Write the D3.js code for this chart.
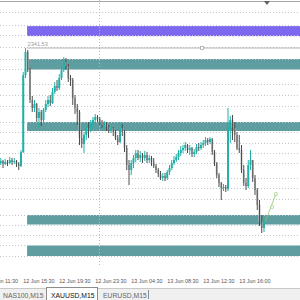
<!DOCTYPE html>
<html>
<head>
<meta charset="utf-8">
<script src="https://cdn.jsdelivr.net/npm/d3@7"></script>
<style>
    body { margin: 0; background: #ffffff; }
    svg { display: block; }
</style>
</head>
<body>
<svg id="chart" width="300" height="300"></svg>
<script>
// XAUUSD M15 bars, open = previous close
var firstOpen = 2313.03;
var closes = [2312.78, 2313.28, 2312.53, 2313.03, 2312.78, 2313.53, 2313.03, 2313.28, 2312.53, 2312.03,
    2315.53, 2334.78, 2340.53, 2336.03, 2328.53, 2326.53, 2327.53, 2324.03, 2325.53, 2323.53,
    2326.03, 2327.53, 2328.53, 2327.78, 2330.53, 2332.03, 2331.53, 2334.03, 2336.03, 2338.03,
    2337.03, 2334.03, 2333.53, 2329.03, 2326.53, 2325.53, 2319.03, 2317.53, 2319.78, 2321.53,
    2321.03, 2322.53, 2323.53, 2324.28, 2323.78, 2323.03, 2322.28, 2322.78, 2321.78, 2321.03,
    2321.53, 2320.53, 2319.03, 2318.03, 2321.53, 2320.53, 2316.53, 2312.28, 2311.03, 2312.78,
    2314.03, 2315.28, 2314.03, 2314.78, 2314.03, 2314.78, 2313.53, 2314.03, 2313.03, 2312.03,
    2311.03, 2310.03, 2309.03, 2309.53, 2309.03, 2310.53, 2311.53, 2312.78, 2313.53, 2314.28,
    2315.28, 2316.03, 2316.53, 2317.28, 2316.03, 2316.53, 2315.03, 2315.53, 2316.78, 2316.53,
    2317.28, 2317.78, 2318.53, 2318.03, 2318.78, 2315.53, 2312.78, 2309.78, 2307.78, 2306.53,
    2306.78, 2306.28, 2321.53, 2323.53, 2321.53, 2319.78, 2316.53, 2316.03, 2311.03, 2307.78,
    2307.03, 2312.28, 2313.53, 2309.03, 2306.03, 2302.28, 2298.03, 2296.53, 2298.03];
var highs = [2313.78, 2314.03, 2313.53, 2313.78, 2313.53, 2314.28, 2314.03, 2314.03, 2313.53, 2313.03,
    2316.03, 2335.53, 2341.53, 2341.03, 2336.53, 2329.53, 2328.53, 2327.78, 2326.53, 2326.03,
    2326.53, 2328.53, 2329.53, 2329.78, 2331.53, 2333.03, 2333.53, 2335.03, 2337.03, 2339.28,
    2339.03, 2337.53, 2334.78, 2334.03, 2329.78, 2327.53, 2326.03, 2321.03, 2320.53, 2322.28,
    2323.03, 2323.53, 2324.28, 2325.03, 2324.78, 2324.28, 2323.53, 2323.28, 2323.03, 2322.28,
    2322.03, 2321.78, 2321.03, 2319.78, 2323.03, 2322.53, 2321.03, 2317.28, 2313.53, 2313.53,
    2314.78, 2316.03, 2316.03, 2315.78, 2315.28, 2315.78, 2315.53, 2314.78, 2314.53, 2314.03,
    2312.53, 2311.53, 2310.78, 2310.28, 2310.28, 2311.03, 2312.28, 2313.53, 2314.53, 2315.03,
    2316.03, 2317.03, 2317.28, 2318.03, 2317.53, 2317.28, 2316.78, 2316.28, 2317.53, 2317.78,
    2318.03, 2318.53, 2319.28, 2319.03, 2319.28, 2319.03, 2316.03, 2313.03, 2310.28, 2308.03,
    2307.53, 2307.28, 2326.53, 2324.53, 2324.78, 2323.03, 2320.53, 2319.78, 2317.28, 2312.28,
    2309.03, 2313.53, 2316.03, 2313.53, 2309.78, 2306.53, 2303.53, 2299.78, 2299.03];
var lows = [2312.03, 2312.28, 2311.53, 2312.28, 2312.03, 2312.53, 2312.28, 2312.53, 2311.78, 2311.03,
    2311.78, 2315.28, 2334.03, 2335.53, 2327.78, 2325.53, 2325.53, 2323.03, 2321.53, 2322.03,
    2323.03, 2325.53, 2326.78, 2327.03, 2327.53, 2330.03, 2330.78, 2331.03, 2333.53, 2335.53,
    2336.03, 2333.03, 2332.03, 2327.28, 2325.03, 2322.28, 2317.28, 2316.53, 2315.28, 2318.53,
    2319.03, 2320.53, 2321.53, 2322.53, 2323.03, 2322.28, 2321.53, 2321.53, 2320.78, 2320.28,
    2320.28, 2319.53, 2318.53, 2317.28, 2317.78, 2319.53, 2315.53, 2311.03, 2307.28, 2309.78,
    2311.53, 2313.03, 2313.53, 2313.03, 2312.78, 2313.28, 2312.78, 2312.78, 2312.03, 2311.53,
    2310.28, 2309.28, 2308.53, 2308.28, 2308.28, 2308.53, 2309.78, 2311.03, 2312.28, 2313.03,
    2313.53, 2314.53, 2315.28, 2315.78, 2315.28, 2314.78, 2314.28, 2314.28, 2315.03, 2315.78,
    2316.03, 2316.53, 2317.03, 2317.28, 2317.53, 2314.78, 2312.03, 2309.03, 2306.78, 2303.53,
    2305.78, 2305.53, 2305.78, 2317.78, 2318.53, 2318.03, 2316.03, 2315.28, 2310.28, 2307.03,
    2306.03, 2306.53, 2311.03, 2308.03, 2304.78, 2301.03, 2297.03, 2295.28, 2295.53];

var gridPrices = [2350.65, 2347.28, 2344.66, 2341.78, 2338.66, 2336.16, 2332.53, 2329.9, 2327.03,
    2323.03, 2320.53, 2317.9, 2315.28, 2312.78, 2309.03, 2306.53, 2303.78, 2299.9, 2297.4,
    2294.78, 2292.16, 2289.53];

// rectangles drawn on the chart: [bottom, top]
var zones = [[2344.5, 2347.0], [2336.15, 2338.78], [2320.78, 2323.03], [2297.4, 2299.78], [2289.53, 2292.16]];
var zoneStartBar = 12.7;

var highPrice = 2341.53;
var highMarkBar = 90.4;

var timeLabels = ["12 Jun 11:30", "12 Jun 15:30", "12 Jun 19:30", "12 Jun 23:30",
    "13 Jun 04:30", "13 Jun 08:30", "13 Jun 12:30", "13 Jun 16:00"];
var timeBars = [-5, 11, 27, 43, 59, 75, 91, 107];
var daySeparatorBar = 44.5;

var projBars = [118.5, 121.6, 123.3];
var projPrices = [2298.03, 2301.78, 2305.03];
var shiftBar = 119.3;

var tabs = ["NAS100,M15", "XAUUSD,M15", "EURUSD,M15"];
var activeTab = 1;

var svg = d3.select("#chart");
var W = 300, plotBottom = 267;

var x = d3.scaleLinear().domain([0, 1]).range([-1.5, 0.75]);
var y = d3.scaleLinear().domain([2353.53 - 266 / 4, 2353.53]).range([266, 0]);

var bars = closes.map(function (c, i) {
    return {
        i: i,
        o: i === 0 ? firstOpen : closes[i - 1],
        h: highs[i],
        l: lows[i],
        c: c
    };
});

// top frame line + chart shift marker
svg.append("line")
    .attr("x1", 0).attr("x2", W).attr("y1", 1.5).attr("y2", 1.5)
    .attr("stroke", "#a8a8a8").attr("stroke-width", 1);
svg.append("path")
    .attr("d", "M" + (x(shiftBar) - 3) + ",1 L" + (x(shiftBar) + 3) + ",1 L" + x(shiftBar) + ",5 Z")
    .attr("fill", "#606060");

// rectangles (background)
svg.append("g")
    .selectAll("rect")
    .data(zones)
    .enter()
    .append("rect")
    .attr("x", x(zoneStartBar))
    .attr("width", W - x(zoneStartBar))
    .attr("y", function (d) { return y(d[1]); })
    .attr("height", function (d) { return y(d[0]) - y(d[1]); })
    .attr("fill", function (d, i) { return i === 0 ? "#7b68ee" : "#5f9ea0"; });

// grid
svg.append("g")
    .selectAll("line")
    .data(gridPrices)
    .enter()
    .append("line")
    .attr("x1", 0).attr("x2", W)
    .attr("y1", function (d) { return Math.round(y(d)) + 0.5; })
    .attr("y2", function (d) { return Math.round(y(d)) + 0.5; })
    .attr("stroke", "#c4c4d4")
    .attr("stroke-width", 1)
    .attr("stroke-dasharray", "1,2");

svg.append("line")
    .attr("x1", Math.round(x(daySeparatorBar)) + 0.5)
    .attr("x2", Math.round(x(daySeparatorBar)) + 0.5)
    .attr("y1", 0).attr("y2", plotBottom)
    .attr("stroke", "#b8b8c8")
    .attr("stroke-width", 1)
    .attr("stroke-dasharray", "1,2");

// high line with label
svg.append("line")
    .attr("x1", x(zoneStartBar)).attr("x2", W)
    .attr("y1", y(highPrice)).attr("y2", y(highPrice))
    .attr("stroke", "#b4b4b4").attr("stroke-width", 1);
svg.append("rect")
    .attr("x", x(highMarkBar) - 1.5).attr("y", y(highPrice) - 1.5)
    .attr("width", 3).attr("height", 3)
    .attr("fill", "#ffffff").attr("stroke", "#a0a0a0").attr("stroke-width", 0.7);
svg.append("text")
    .attr("x", x(zoneStartBar) + 0.5)
    .attr("y", y(highPrice) - 2)
    .attr("font-family", "Liberation Sans, Arial, sans-serif")
    .attr("font-size", 5.6)
    .attr("fill", "#9a9a9a")
    .text(highPrice.toFixed(2));

// candles
var candle = svg.append("g")
    .selectAll("g")
    .data(bars)
    .enter()
    .append("g");

candle.append("rect")
    .attr("x", function (d) { return x(d.i) - 1; })
    .attr("width", 2)
    .attr("y", function (d) { return y(Math.max(d.o, d.c)); })
    .attr("height", function (d) { return Math.max(0.8, Math.abs(y(d.o) - y(d.c))); })
    .attr("fill", function (d) { return d.c >= d.o ? "#20b2aa" : "#bdbdbd"; });

candle.append("line")
    .attr("x1", function (d) { return x(d.i); })
    .attr("x2", function (d) { return x(d.i); })
    .attr("y1", function (d) { return y(d.h); })
    .attr("y2", function (d) { return y(d.l); })
    .attr("stroke", function (d) { return d.c >= d.o ? "#20b2aa" : "#4e4e4e"; })
    .attr("stroke-width", 1);

// projection line
var proj = projBars.map(function (b, i) { return [x(b), y(projPrices[i])]; });
svg.append("path")
    .attr("d", d3.line()([proj[0], proj[2]]))
    .attr("stroke", "#8cc864")
    .attr("stroke-width", 0.8)
    .attr("fill", "none");
svg.append("g")
    .selectAll("rect")
    .data(proj.slice(1))
    .enter()
    .append("rect")
    .attr("x", function (d) { return d[0] - 1.2; })
    .attr("y", function (d) { return d[1] - 1.2; })
    .attr("width", 2.4).attr("height", 2.4)
    .attr("fill", "#ffffff")
    .attr("stroke", "#8cc864")
    .attr("stroke-width", 0.6);

// time axis
svg.append("g")
    .selectAll("text")
    .data(timeLabels)
    .enter()
    .append("text")
    .attr("x", function (d, i) { return x(timeBars[i]); })
    .attr("y", 283)
    .attr("font-family", "Liberation Sans, Arial, sans-serif")
    .attr("font-size", 5.4)
    .attr("fill", "#555555")
    .text(function (d) { return d; });

// tab bar
svg.append("rect")
    .attr("x", 0).attr("y", 288).attr("width", W).attr("height", 12)
    .attr("fill", "#f0f0f0");
svg.append("line")
    .attr("x1", 0).attr("x2", W).attr("y1", 288.5).attr("y2", 288.5)
    .attr("stroke", "#c8c8c8");

var tabX = [3, 51, 103];
svg.append("rect")
    .attr("x", 46.5).attr("y", 287.5).attr("width", 51).attr("height", 13)
    .attr("fill", "#ffffff")
    .attr("stroke", "#8c8c8c")
    .attr("stroke-width", 1);

svg.append("g")
    .selectAll("text")
    .data(tabs)
    .enter()
    .append("text")
    .attr("x", function (d, i) { return tabX[i]; })
    .attr("y", 297.5)
    .attr("font-family", "Liberation Sans, Arial, sans-serif")
    .attr("font-size", 6.8)
    .attr("fill", function (d, i) { return i === activeTab ? "#111111" : "#666666"; })
    .text(function (d) { return d; });

svg.append("line")
    .attr("x1", 148.5).attr("x2", 148.5).attr("y1", 290).attr("y2", 299)
    .attr("stroke", "#909090");
</script>
</body>
</html>
